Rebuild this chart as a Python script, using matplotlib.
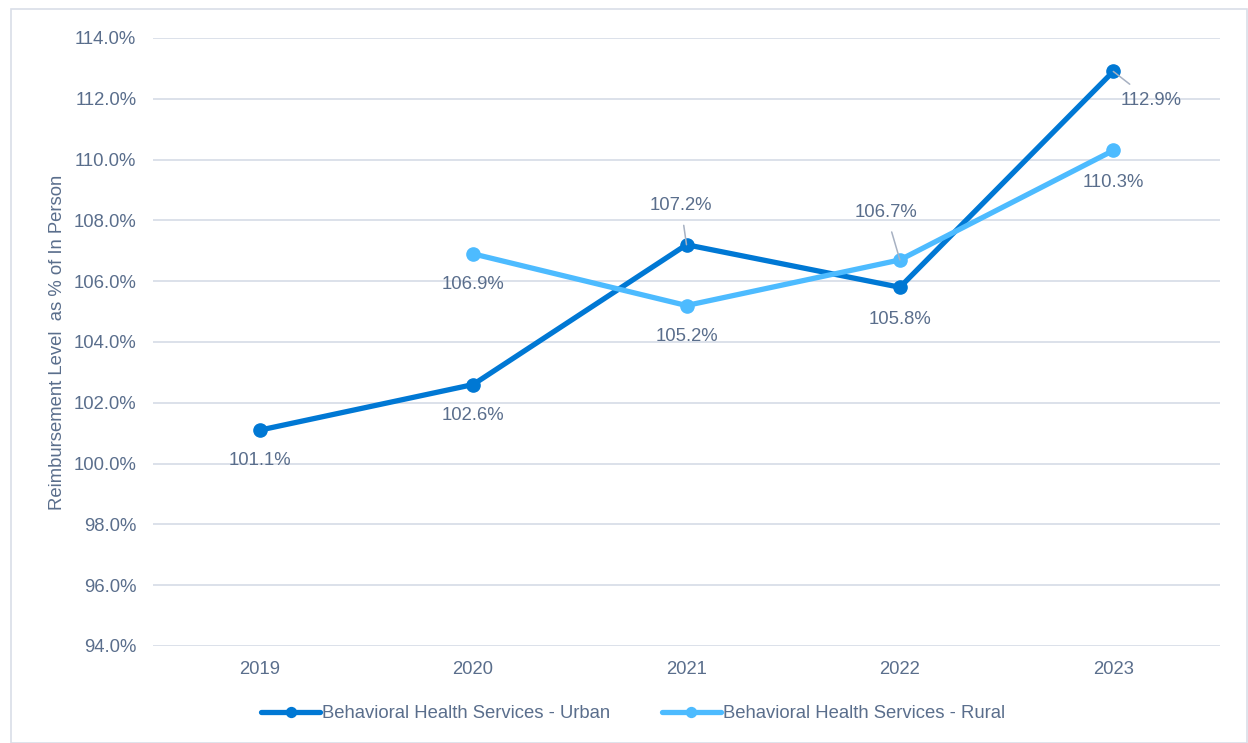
import matplotlib
matplotlib.use("Agg")
import matplotlib.pyplot as plt
from matplotlib.patches import Rectangle
from matplotlib.ticker import FuncFormatter

years = ["2019", "2020", "2021", "2022", "2023"]
urban = [101.1, 102.6, 107.2, 105.8, 112.9]
rural = [None, 106.9, 105.2, 106.7, 110.3]
urban_name = "Behavioral Health Services - Urban"
rural_name = "Behavioral Health Services - Rural"
y_title = "Reimbursement Level  as % of In Person"

URBAN_C = "#0078D4"
RURAL_C = "#4DBBFF"
TEXT_C = "#5A6E8C"
GRID_C = "#D9DEE8"
LEADER_C = "#A7B1C2"

plt.rcParams["font.family"] = ["Liberation Sans", "DejaVu Sans"]

fig = plt.figure(figsize=(12.48, 7.43), dpi=100)
fig.patches.append(Rectangle((11 / 1248, 0.0), 1 - 12 / 1248, 1 - 9 / 743,
                             transform=fig.transFigure, fill=False,
                             edgecolor=GRID_C, linewidth=1.2))

ax = fig.add_axes([153 / 1248, 1 - 646 / 743, (1220 - 153) / 1248, (646 - 38) / 743])

x = list(range(len(years)))
rx = [i for i, v in zip(x, rural) if v is not None]
rv = [v for v in rural if v is not None]

ax.plot(x, urban, color=URBAN_C, lw=3.8, marker="o", ms=9.5, label=urban_name,
        solid_capstyle="round", zorder=3)
ax.plot(rx, rv, color=RURAL_C, lw=3.8, marker="o", ms=9.5, label=rural_name,
        solid_capstyle="round", zorder=3)

ax.set_ylim(94, 114)
ax.set_yticks([94 + 2 * i for i in range(11)])
ax.yaxis.set_major_formatter(FuncFormatter(lambda v, p: f"{v:.1f}%"))
ax.set_xlim(-0.5, len(years) - 0.5)
ax.set_xticks(x)
ax.set_xticklabels(years)

FS = 13.3
ax.grid(axis="y", color=GRID_C, lw=1.3)
ax.set_axisbelow(True)
for s in ax.spines.values():
    s.set_visible(False)
ax.tick_params(length=0, colors=TEXT_C, labelsize=FS)
ax.tick_params(axis="y", pad=12)
ax.tick_params(axis="x", pad=11)
ax.set_ylabel(y_title, color=TEXT_C, fontsize=FS)
ax.yaxis.set_label_coords(-0.0815, 0.5)


def lab(xi, v, dy, dx=0, leader=False):
    kw = dict(textcoords="offset points", ha="center", va="center",
              fontsize=FS, color=TEXT_C)
    if leader:
        kw["arrowprops"] = dict(arrowstyle="-", color=LEADER_C, lw=1.1,
                                shrinkA=6, shrinkB=0)
    ax.annotate(f"{v:.1f}%", xy=(xi, v), xytext=(dx, dy), **kw)


# Urban labels
lab(0, urban[0], -22)
lab(1, urban[1], -22)
lab(2, urban[2], 28, dx=-4, leader=True)
lab(3, urban[3], -23)
lab(4, urban[4], -21, dx=27, leader=True)
# Rural labels
lab(1, rural[1], -22)
lab(2, rural[2], -22)
lab(3, rural[3], 34, dx=-10, leader=True)
lab(4, rural[4], -23)

leg = fig.legend(loc="center", bbox_to_anchor=(633 / 1248, 1 - 714 / 743), ncol=2,
                 frameon=False, fontsize=FS, handlelength=3.2, handletextpad=0.1,
                 columnspacing=2.8, labelcolor=TEXT_C, markerscale=0.75)

fig.savefig("out.png", dpi=100, facecolor="white")
